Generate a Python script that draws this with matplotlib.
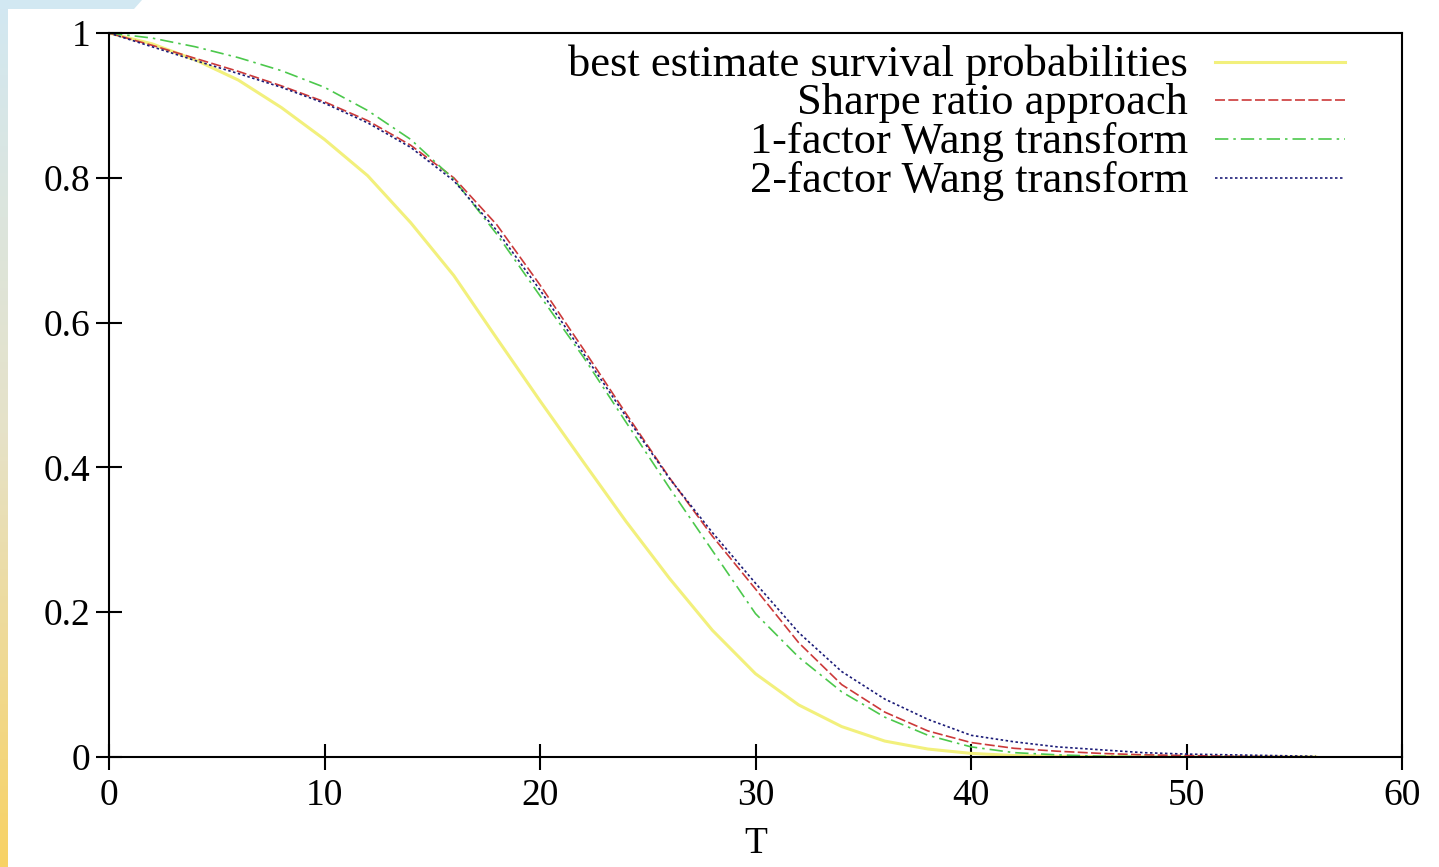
import numpy as np
import matplotlib
matplotlib.use('Agg')
import matplotlib.pyplot as plt
from matplotlib.colors import LinearSegmentedColormap
from matplotlib.lines import Line2D
from matplotlib.patches import Polygon

# data
T = [0, 2, 4, 6, 8, 10, 12, 14, 16, 18, 20, 22, 24, 26, 28,
     30, 32, 34, 36, 38, 40, 42, 44, 46, 48, 50, 52, 54, 56]

best_estimate = [1.000, 0.985, 0.963, 0.935, 0.897, 0.853, 0.803, 0.738, 0.665, 0.578,
                 0.492, 0.408, 0.325, 0.247, 0.175, 0.115, 0.072, 0.042, 0.022, 0.011,
                 0.005, 0.002, 0.001, 0.0005, 0.0002, 0.0001, 0.0, 0.0, 0.0]
sharpe = [1.000, 0.983, 0.965, 0.947, 0.927, 0.905, 0.879, 0.845, 0.800, 0.735,
          0.652, 0.564, 0.474, 0.386, 0.305, 0.232, 0.158, 0.100, 0.062, 0.036,
          0.020, 0.012, 0.008, 0.005, 0.003, 0.002, 0.001, 0.0005, 0.0002]
wang1 = [1.000, 0.993, 0.981, 0.966, 0.948, 0.925, 0.893, 0.853, 0.798, 0.722,
         0.637, 0.553, 0.462, 0.372, 0.285, 0.198, 0.138, 0.090, 0.055, 0.030,
         0.014, 0.006, 0.003, 0.001, 0.0005, 0.0002, 0.0001, 0.0, 0.0]
wang2 = [1.000, 0.981, 0.962, 0.944, 0.925, 0.903, 0.876, 0.842, 0.796, 0.727,
         0.645, 0.558, 0.470, 0.385, 0.310, 0.240, 0.172, 0.118, 0.080, 0.052,
         0.030, 0.021, 0.014, 0.010, 0.006, 0.004, 0.003, 0.002, 0.001]

labels = ['best estimate survival probabilities', 'Sharpe ratio approach',
          '1-factor Wang transform', '2-factor Wang transform']
xticks = [0, 10, 20, 30, 40, 50, 60]
yticks = [0, 0.2, 0.4, 0.6, 0.8, 1]
ytick_labels = ['0', '0.2', '0.4', '0.6', '0.8', '1']

styles = [
    dict(color='#f2f07c', lw=2.2, ls='-'),
    dict(color='#cc3a3a', lw=1.2, ls=(0, (6, 2))),
    dict(color='#4cc84c', lw=1.2, ls=(0, (8, 3, 1.5, 3))),
    dict(color='#1c1c78', lw=1.2, ls=(0, (1.5, 1.5))),
]

plt.rcParams['font.family'] = ['Liberation Serif', 'DejaVu Serif']

fig = plt.figure(figsize=(14.39, 8.67), dpi=100)
ax = fig.add_axes([109/1439, 1-757/867, (1402-109)/1439, (757-33)/867])

series = [best_estimate, sharpe, wang1, wang2]
for ys, st in zip(series, styles):
    ax.plot(T, ys, **st)

ax.set_xlim(0, 60)
ax.set_ylim(0, 1)
ax.set_xticks(xticks)
ax.set_yticks(yticks)
ax.set_yticklabels(ytick_labels)
ax.tick_params(direction='inout', length=19, width=1.5, labelsize=27, pad=4)
ax.tick_params(axis='x', pad=6)
for sp in ax.spines.values():
    sp.set_linewidth(1.5)
ax.set_xlabel('T', fontsize=27, labelpad=10)

# gnuplot style key: text right aligned, sample line on the right
key_y = [0.956, 0.9035, 0.8496, 0.796]
for lab, st, ky in zip(labels, styles, key_y):
    ax.text(0.8345, ky, lab, transform=ax.transAxes, ha='right', va='center', fontsize=32)
    ax.add_line(Line2D([0.855, 0.956], [ky + 0.004, ky + 0.004], transform=ax.transAxes, **st))

# slide background strip on the left edge
cmap = LinearSegmentedColormap.from_list('slide', ['#d2e8f2', '#e6e2c8', '#f8d264'])
bg = fig.add_axes([0, 0, 8/1439, 1])
bg.imshow(np.linspace(0, 1, 256).reshape(-1, 1), aspect='auto', cmap=cmap)
bg.set_axis_off()
fig.patches.append(Polygon([[0, 1], [142/1439, 1], [134/1439, 1-9/867], [0, 1-9/867]],
                           closed=True, transform=fig.transFigure,
                           facecolor='#d2e8f2', edgecolor='none'))

fig.savefig('out.png', dpi=100)
